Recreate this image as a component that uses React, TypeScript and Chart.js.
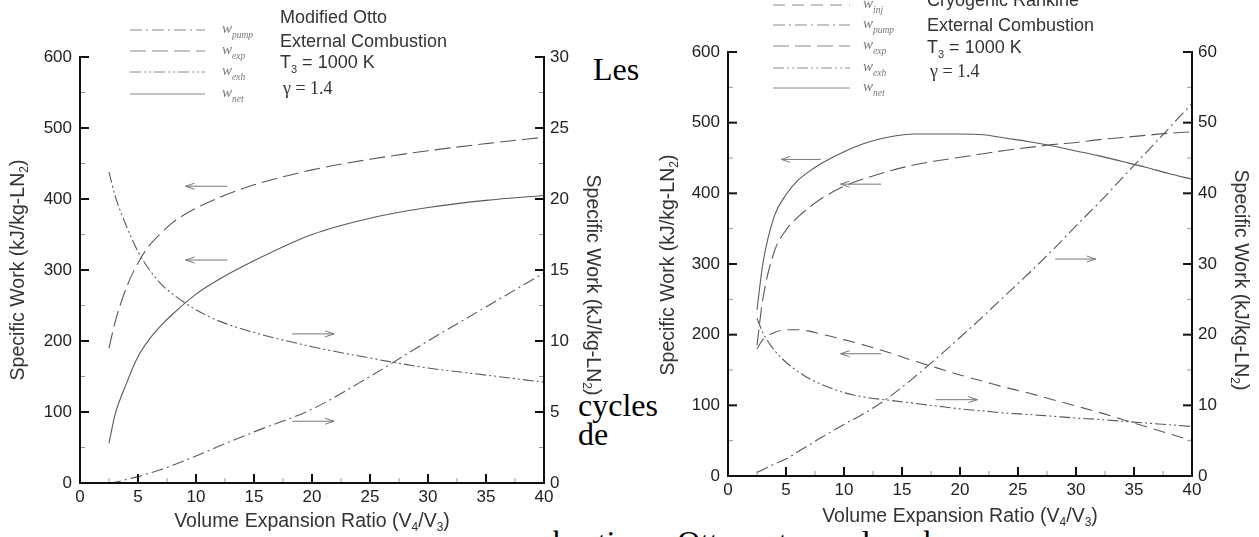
import { useEffect, useRef } from "react";
import { Chart, registerables } from "chart.js";

Chart.register(...registerables);

const SANS = "'Liberation Sans', Arial, Helvetica, sans-serif";
const SERIF = "'Liberation Serif', 'Times New Roman', serif";

// ---------------- Modified Otto (left panel) ----------------
const ottoRatio = [2.5, 3, 4, 5, 6, 7, 8, 10, 12, 15, 20, 25, 30, 35, 40];
const ottoWexp = [190, 225, 275, 310, 335, 352, 367, 387, 402, 420, 441, 456, 468, 478, 487];
const ottoWnet = [56, 95, 140, 178, 203, 222, 238, 266, 287, 313, 350, 373, 388, 398, 405];
// right axis (kJ/kg-LN2, 0-30)
const ottoWexh = [21.9, 20.3, 18.1, 16.3, 15.0, 14.0, 13.3, 12.2, 11.4, 10.6, 9.6, 8.8, 8.1, 7.6, 7.1];
const ottoWpump = [0, 0.05, 0.25, 0.45, 0.7, 0.95, 1.25, 1.9, 2.6, 3.6, 5.2, 7.5, 10.0, 12.4, 14.8];

// ---------------- Cryogenic Rankine (right panel) ----------------
const rankRatio = [2.5, 3, 4, 5, 6, 7, 8, 10, 12, 14, 16, 18, 20, 22, 24, 26, 28, 30, 32, 34, 36, 38, 40];
const rankWnet = [235, 300, 368, 398, 418, 431, 442, 459, 472, 480, 484, 484, 484, 483, 478, 473, 467, 460, 453, 445, 437, 428, 420];
const rankWexp = [185, 250, 318, 348, 366, 380, 392, 410, 422, 432, 440, 446, 451, 456, 461, 465, 469, 472, 476, 479, 482, 485, 487];
const rankWinj = [180, 193, 203, 207, 207, 205, 201, 193, 184, 174, 163, 153, 143, 134, 125, 117, 108, 99, 90, 80, 70, 60, 50];
// right axis (kJ/kg-LN2, 0-60)
const rankWexh = [22.3, 20.3, 17.8, 16.1, 14.8, 13.8, 13.0, 11.8, 11.1, 10.7, 10.3, 9.9, 9.5, 9.2, 8.9, 8.7, 8.45, 8.2, 8.0, 7.75, 7.5, 7.25, 7.0];
const rankWpump = [0.5, 0.9, 1.7, 2.4, 3.4, 4.4, 5.4, 7.3, 9.1, 11.3, 13.9, 16.7, 19.6, 22.6, 25.7, 28.8, 32.0, 35.4, 38.7, 42.2, 45.7, 49.2, 52.7];

// axis ranges / ticks
const xRange = [0, 40];
const xStep = 5;
const leftRange = [0, 600];
const leftStep = 100;
const ottoRightRange = [0, 30];
const ottoRightStep = 5;
const rankRightRange = [0, 60];
const rankRightStep = 10;

// pointer arrows: tail ratio, head ratio, value, axis
const ottoArrows = [
  { from: 12.7, to: 9.1, v: 418, axis: "y" },
  { from: 12.7, to: 9.1, v: 314, axis: "y" },
  { from: 18.3, to: 21.9, v: 10.5, axis: "y1" },
  { from: 18.3, to: 21.9, v: 4.35, axis: "y1" },
];
const rankArrows = [
  { from: 8.0, to: 4.6, v: 448, axis: "y" },
  { from: 13.2, to: 9.7, v: 413, axis: "y" },
  { from: 13.2, to: 9.7, v: 173, axis: "y" },
  { from: 28.2, to: 31.7, v: 30.7, axis: "y1" },
  { from: 17.9, to: 21.5, v: 10.8, axis: "y1" },
];

const ottoLegend = ["pump", "exp", "exh", "net"];
const rankLegend = ["inj", "pump", "exp", "exh", "net"];
const ottoNotes = ["Modified Otto", "External Combustion", "T3 = 1000 K", "γ = 1.4"];
const rankNotes = ["Cryogenic Rankine", "External Combustion", "T3 = 1000 K", "γ = 1.4"];

const DASH: Record<string, number[]> = {
  inj: [12, 7],
  pump: [12, 4, 2, 4],
  exp: [16, 6],
  exh: [11, 3, 2, 3, 2, 3],
  net: [],
};

type Part = { t: string; sub?: boolean };

function drawRich(ctx: CanvasRenderingContext2D, parts: Part[], x: number, y: number, font: string, subFont: string, subDy: number, align: "left" | "center") {
  const widths = parts.map((p) => {
    ctx.font = p.sub ? subFont : font;
    return ctx.measureText(p.t).width;
  });
  const total = widths.reduce((a, b) => a + b, 0);
  let cx = align === "center" ? x - total / 2 : x;
  ctx.textAlign = "left";
  parts.forEach((p, i) => {
    ctx.font = p.sub ? subFont : font;
    ctx.fillText(p.t, cx, p.sub ? y + subDy : y);
    cx += widths[i];
  });
}

function noteParts(s: string): Part[] {
  if (s.startsWith("T3")) return [{ t: "T" }, { t: "3", sub: true }, { t: s.slice(2) }];
  return [{ t: s }];
}

const yTitle: Part[] = [{ t: "Specific Work (kJ/kg-LN" }, { t: "2", sub: true }, { t: ")" }];
const xTitle: Part[] = [{ t: "Volume Expansion Ratio (V" }, { t: "4", sub: true }, { t: "/V" }, { t: "3", sub: true }, { t: ")" }];

type Spec = {
  name: string;
  width: number;
  height: number;
  plotLeft: number;
  plotRight: number;
  plotTop: number;
  plotBottom: number;
  rightRange: number[];
  rightStep: number;
  ratio: number[];
  series: { key: string; values: number[]; axis: string }[];
  arrows: { from: number; to: number; v: number; axis: string }[];
  legend: string[];
  legendX0: number;
  legendX1: number;
  legendLabelX: number;
  legendRows: number[];
  notes: string[];
  notesX: number;
  notesBase: number[];
  leftTitle: number[];
  rightTitle: number[];
  bottomTitle: number[];
};

function makePlugin(spec: Spec) {
  return {
    id: "decor_" + spec.name,
    afterDraw(chart: any) {
      const ctx: CanvasRenderingContext2D = chart.ctx;
      const { left, right, top, bottom } = chart.chartArea;
      const xs = chart.scales.x;
      const yl = chart.scales.y;
      const yr = chart.scales.y1;
      ctx.save();

      const tick = (x1: number, y1: number, x2: number, y2: number, major: boolean) => {
        ctx.beginPath();
        ctx.lineWidth = major ? 2 : 1;
        ctx.strokeStyle = major ? "#111" : "#999";
        ctx.moveTo(x1, y1);
        ctx.lineTo(x2, y2);
        ctx.stroke();
      };
      for (let i = 0; i <= (xRange[1] - xRange[0]) / (xStep / 2); i++) {
        const v = xRange[0] + i * (xStep / 2);
        const px = xs.getPixelForValue(v);
        const major = i % 2 === 0;
        tick(px, bottom, px, bottom - (major ? 9 : 5), major);
      }
      for (let i = 0; i <= (leftRange[1] - leftRange[0]) / (leftStep / 2); i++) {
        const v = leftRange[0] + i * (leftStep / 2);
        const py = yl.getPixelForValue(v);
        const major = i % 2 === 0;
        tick(left, py, left + (major ? 9 : 5), py, major);
      }
      const rs = spec.rightStep / 2;
      for (let i = 0; i <= (spec.rightRange[1] - spec.rightRange[0]) / rs; i++) {
        const v = spec.rightRange[0] + i * rs;
        const py = yr.getPixelForValue(v);
        const major = i % 2 === 0;
        tick(right, py, right - (major ? 9 : 5), py, major);
      }

      // axis lines (no top frame)
      ctx.beginPath();
      ctx.strokeStyle = "#111";
      ctx.lineWidth = 2;
      ctx.lineCap = "square";
      ctx.moveTo(left, top);
      ctx.lineTo(left, bottom);
      ctx.lineTo(right, bottom);
      ctx.lineTo(right, top);
      ctx.stroke();
      ctx.lineCap = "butt";

      // arrows
      ctx.strokeStyle = "#777";
      ctx.lineWidth = 1;
      spec.arrows.forEach((a) => {
        const sc = a.axis === "y" ? yl : yr;
        const py = sc.getPixelForValue(a.v);
        const x1 = xs.getPixelForValue(a.from);
        const x2 = xs.getPixelForValue(a.to);
        const dir = x2 > x1 ? 1 : -1;
        ctx.beginPath();
        ctx.moveTo(x1, py);
        ctx.lineTo(x2, py);
        ctx.moveTo(x2, py);
        ctx.lineTo(x2 - dir * 9, py - 3);
        ctx.moveTo(x2, py);
        ctx.lineTo(x2 - dir * 9, py + 3);
        ctx.stroke();
      });

      // legend
      spec.legend.forEach((k, i) => {
        const ly = spec.legendRows[i];
        ctx.beginPath();
        ctx.strokeStyle = "#888";
        ctx.lineWidth = 1;
        ctx.setLineDash(DASH[k]);
        ctx.moveTo(spec.legendX0, ly);
        ctx.lineTo(spec.legendX1, ly);
        ctx.stroke();
        ctx.setLineDash([]);
        ctx.fillStyle = "#777";
        ctx.textBaseline = "alphabetic";
        drawRich(ctx, [{ t: "w" }, { t: k, sub: true }], spec.legendLabelX, ly + 3, "italic 15px " + SERIF, "italic 9.5px " + SERIF, 5, "left");
      });

      // notes
      ctx.fillStyle = "#333";
      ctx.textBaseline = "alphabetic";
      spec.notes.forEach((n, i) => {
        const isGamma = n.startsWith("γ");
        drawRich(ctx, noteParts(n), spec.notesX + (isGamma ? 3 : 0), spec.notesBase[i], isGamma ? "18px " + SERIF : "18px " + SANS, "11px " + SANS, 5, "left");
      });

      // axis titles
      ctx.fillStyle = "#333";
      ctx.textBaseline = "middle";
      const tf = "19.5px " + SANS;
      const sf = "12px " + SANS;
      ctx.save();
      ctx.translate(spec.leftTitle[0], spec.leftTitle[1]);
      ctx.rotate(-Math.PI / 2);
      drawRich(ctx, yTitle, 0, 0, tf, sf, 6, "center");
      ctx.restore();
      ctx.save();
      ctx.translate(spec.rightTitle[0], spec.rightTitle[1]);
      ctx.rotate(Math.PI / 2);
      drawRich(ctx, yTitle, 0, 0, tf, sf, 6, "center");
      ctx.restore();
      drawRich(ctx, xTitle, spec.bottomTitle[0], spec.bottomTitle[1], tf, sf, 6, "center");

      ctx.restore();
    },
  };
}

function buildConfig(spec: Spec): any {
  const tickFont = { family: SANS, size: 17 };
  const grid = { display: false, drawTicks: false, tickLength: 0 };
  return {
    type: "line",
    data: {
      datasets: spec.series.map((s) => ({
        label: "w_" + s.key,
        data: spec.ratio.map((r, i) => ({ x: r, y: s.values[i] })),
        yAxisID: s.axis,
        borderColor: "#595959",
        borderWidth: 1.1,
        borderDash: DASH[s.key],
        pointRadius: 0,
        fill: false,
        cubicInterpolationMode: "monotone",
      })),
    },
    options: {
      animation: false,
      responsive: false,
      maintainAspectRatio: false,
      events: [],
      layout: { padding: { top: spec.plotTop, left: 0, right: 0, bottom: 0 } },
      plugins: { legend: { display: false }, tooltip: { enabled: false }, title: { display: false } },
      scales: {
        x: {
          type: "linear",
          min: xRange[0],
          max: xRange[1],
          ticks: { stepSize: xStep, padding: 4, color: "#222", font: tickFont },
          grid,
          border: { display: false },
          afterFit: (s: any) => {
            s.height = spec.height - spec.plotBottom;
          },
        },
        y: {
          type: "linear",
          position: "left",
          min: leftRange[0],
          max: leftRange[1],
          ticks: { stepSize: leftStep, padding: 8, color: "#222", font: tickFont },
          grid,
          border: { display: false },
          afterFit: (s: any) => {
            s.width = spec.plotLeft;
          },
        },
        y1: {
          type: "linear",
          position: "right",
          min: spec.rightRange[0],
          max: spec.rightRange[1],
          ticks: { stepSize: spec.rightStep, padding: 6, color: "#222", font: tickFont },
          grid,
          border: { display: false },
          afterFit: (s: any) => {
            s.width = spec.width - spec.plotRight;
          },
        },
      },
    },
    plugins: [makePlugin(spec)],
  };
}

const LEFT_OFF = 0;
const RIGHT_OFF = 640;

const ottoSpec: Spec = {
  name: "otto",
  width: 640,
  height: 537,
  plotLeft: 80 - LEFT_OFF,
  plotRight: 544 - LEFT_OFF,
  plotTop: 57,
  plotBottom: 483,
  rightRange: ottoRightRange,
  rightStep: ottoRightStep,
  ratio: ottoRatio,
  series: [
    { key: "exp", values: ottoWexp, axis: "y" },
    { key: "net", values: ottoWnet, axis: "y" },
    { key: "exh", values: ottoWexh, axis: "y1" },
    { key: "pump", values: ottoWpump, axis: "y1" },
  ],
  arrows: ottoArrows,
  legend: ottoLegend,
  legendX0: 130,
  legendX1: 205,
  legendLabelX: 222,
  legendRows: [30, 51, 72, 94],
  notes: ottoNotes,
  notesX: 280,
  notesBase: [23, 47, 68, 94],
  leftTitle: [19, 270],
  rightTitle: [592, 285],
  bottomTitle: [312, 522],
};

const rankSpec: Spec = {
  name: "rankine",
  width: 619,
  height: 537,
  plotLeft: 728 - RIGHT_OFF,
  plotRight: 1192 - RIGHT_OFF,
  plotTop: 52,
  plotBottom: 476,
  rightRange: rankRightRange,
  rightStep: rankRightStep,
  ratio: rankRatio,
  series: [
    { key: "net", values: rankWnet, axis: "y" },
    { key: "exp", values: rankWexp, axis: "y" },
    { key: "inj", values: rankWinj, axis: "y" },
    { key: "exh", values: rankWexh, axis: "y1" },
    { key: "pump", values: rankWpump, axis: "y1" },
  ],
  arrows: rankArrows,
  legend: rankLegend,
  legendX0: 773 - RIGHT_OFF,
  legendX1: 850 - RIGHT_OFF,
  legendLabelX: 863 - RIGHT_OFF,
  legendRows: [5, 25, 46, 68, 88],
  notes: rankNotes,
  notesX: 927 - RIGHT_OFF,
  notesBase: [6, 31, 53, 77],
  leftTitle: [669 - RIGHT_OFF, 265],
  rightTitle: [1240 - RIGHT_OFF, 280],
  bottomTitle: [960 - RIGHT_OFF, 517],
};

export default function App() {
  const leftRef = useRef<HTMLCanvasElement>(null);
  const rightRef = useRef<HTMLCanvasElement>(null);

  useEffect(() => {
    const c1 = new Chart(leftRef.current as HTMLCanvasElement, buildConfig(ottoSpec));
    const c2 = new Chart(rightRef.current as HTMLCanvasElement, buildConfig(rankSpec));
    return () => {
      c1.destroy();
      c2.destroy();
    };
  }, []);

  const serifText = { fontFamily: SERIF, fontSize: 32, color: "#000", position: "absolute" as const, whiteSpace: "nowrap" as const };

  return (
    <div style={{ position: "absolute", left: 0, top: 0, width: 1259, height: 537, overflow: "hidden", background: "#fff" }}>
      <div style={{ ...serifText, left: 593, top: 53, lineHeight: "32px" }}>Les</div>
      <div style={{ ...serifText, left: 578, top: 391, lineHeight: "29px" }}>
        cycles
        <br />
        de
      </div>
      <div style={{ position: "absolute", left: 553, top: 505, width: 706, height: 32, overflow: "hidden" }}>
        <div style={{ ...serifText, left: -55, top: 21, lineHeight: "32px", wordSpacing: "22px" }}>combustion Otto et cycle de</div>
      </div>
      <canvas ref={leftRef} width={640} height={537} style={{ position: "absolute", left: LEFT_OFF, top: 0 }} />
      <canvas ref={rightRef} width={619} height={537} style={{ position: "absolute", left: RIGHT_OFF, top: 0 }} />
    </div>
  );
}
